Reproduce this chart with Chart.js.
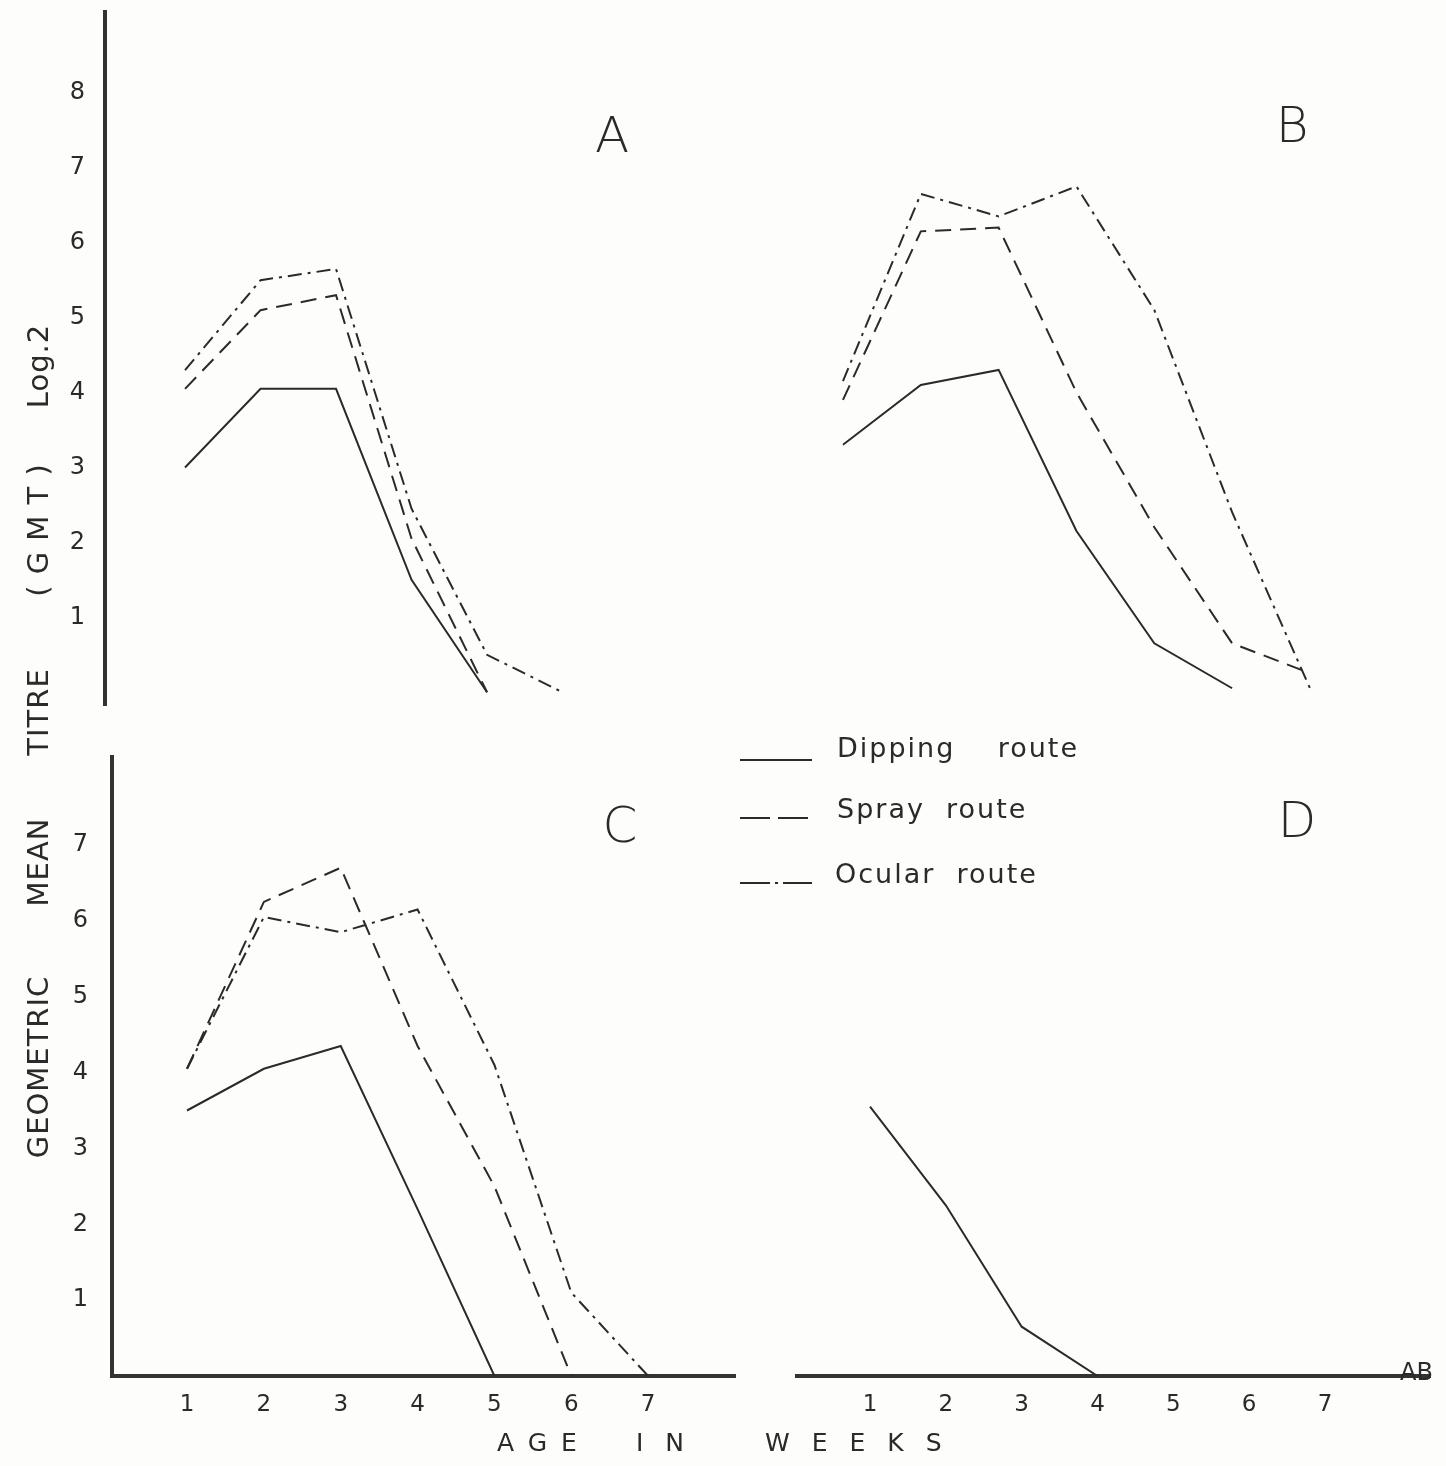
<!DOCTYPE html>
<html>
<head>
<meta charset="utf-8">
<script src="https://cdn.jsdelivr.net/npm/chart.js@4.4.1/dist/chart.umd.min.js"></script>
<style>
  body { margin: 0; background: #fdfdfb; }
  #page { position: relative; width: 1446px; height: 1466px; overflow: hidden;
          font-family: 'DejaVu Sans', sans-serif; color: #2a2a2a; }
  canvas { position: absolute; }
  .txt { position: absolute; white-space: nowrap; }
  .panel { font-size: 50px; font-weight: 200; transform: translate(-50%, -50%); }
  .ytitle { font-size: 29px; letter-spacing: 1px; transform: translate(-50%, -50%) rotate(-90deg); }
  .xtitle { font-size: 25px; letter-spacing: 14px; transform: translateY(-50%); }
  .leg { font-size: 27px; letter-spacing: 2px; transform: translateY(-50%); }
</style>
</head>
<body>
<div id="page">
  <canvas id="chartA" width="740" height="720" style="left:0;top:0"></canvas>
  <canvas id="chartB" width="706" height="720" style="left:740px;top:0"></canvas>
  <canvas id="chartC" width="760" height="746" style="left:0;top:720px"></canvas>
  <canvas id="chartD" width="686" height="746" style="left:760px;top:720px"></canvas>

  <!-- panel letters -->
  <div class="txt panel" style="left:612px;top:135px">A</div>
  <div class="txt panel" style="left:1292px;top:125px">B</div>
  <div class="txt panel" style="left:620px;top:825px">C</div>
  <div class="txt panel" style="left:1297px;top:820px">D</div>

  <!-- y title, one word at a time -->
  <div class="txt ytitle" style="left:38px;top:1067px">GEOMETRIC</div>
  <div class="txt ytitle" style="left:38px;top:862px">MEAN</div>
  <div class="txt ytitle" style="left:38px;top:712px">TITRE</div>
  <div class="txt ytitle" style="left:38px;top:530px">( G M T )</div>
  <div class="txt ytitle" style="left:38px;top:366px">Log.2</div>

  <!-- x title -->
  <div class="txt xtitle" style="left:497px;top:1442px">AGE</div>
  <div class="txt xtitle" style="left:636px;top:1442px;letter-spacing:22px">IN</div>
  <div class="txt xtitle" style="left:765px;top:1442px;letter-spacing:22px">WEEKS</div>
  <div class="txt" style="left:1400px;top:1358px;font-size:24px">AB</div>

  <!-- legend -->
  <svg class="txt" style="left:738px;top:740px" width="80" height="150">
    <line x1="2" y1="20" x2="74" y2="20" stroke="#2a2a2a" stroke-width="2"/>
    <line x1="2" y1="78" x2="74" y2="78" stroke="#2a2a2a" stroke-width="2" stroke-dasharray="30 8"/>
    <line x1="2" y1="143" x2="74" y2="143" stroke="#2a2a2a" stroke-width="2" stroke-dasharray="30 5 3 5 40"/>
  </svg>
  <div class="txt leg" style="left:837px;top:747px">Dipping&nbsp;&nbsp;&nbsp; route</div>
  <div class="txt leg" style="left:837px;top:808px">Spray&nbsp; route</div>
  <div class="txt leg" style="left:835px;top:873px">Ocular&nbsp; route</div>
</div>

<script>
// Age in weeks (x)
const weeks = [1, 2, 3, 4, 5, 6, 7];

// Panel A
const dipA = [3.0, 4.05, 4.05, 1.5, 0];
const sprayA = [4.05, 5.1, 5.3, 2.05, 0];
const ocularA = [4.3, 5.5, 5.65, 2.45, 0.5, 0];

// Panel B
const dipB = [3.3, 4.1, 4.3, 2.15, 0.65, 0.05];
const sprayB = [3.9, 6.15, 6.2, 4.0, 2.2, 0.65, 0.25];
const ocularB = [4.15, 6.65, 6.35, 6.75, 5.1, 2.4, 0.05];

// Panel C
const dipC = [3.5, 4.05, 4.35, 2.2, 0];
const sprayC = [4.05, 6.25, 6.7, 4.35, 2.5, 0];
const ocularC = [4.05, 6.05, 5.85, 6.15, 4.1, 1.1, 0];

// Panel D (dipping only)
const dipD = [3.55, 2.25, 0.65, 0];

// Tick labels
const yTicksTop = [1, 2, 3, 4, 5, 6, 7, 8];
const yTicksBottom = [1, 2, 3, 4, 5, 6, 7];
const xTicks = [1, 2, 3, 4, 5, 6, 7];

const INK = '#2a2a2a';
const AXIS = '#333333';
const SOLID = [], DASH = [16, 9], DASHDOT = [14, 6, 3, 6];
const tickFont = { family: 'DejaVu Sans', size: 24 };

function pts(vals) {
    return vals.map((v, i) => ({ x: weeks[i], y: v }));
}

function series(vals, dash) {
    return {
        data: pts(vals),
        borderColor: INK,
        borderWidth: 2,
        borderDash: dash,
        pointRadius: 0,
        tension: 0,
        fill: false
    };
}

function setTicks(list) {
    return s => { s.ticks = list.map(v => ({ value: v })); };
}

function noPad(s) {
    s.paddingTop = 0; s.paddingBottom = 0;
    s.paddingLeft = 0; s.paddingRight = 0;
}

function yAxis(min, max, list, width, pad) {
    return {
        type: 'linear', min: min, max: max,
        border: { display: true, width: 4, color: AXIS },
        grid: { display: false, drawTicks: false },
        ticks: { font: tickFont, color: INK, padding: pad, autoSkip: false },
        afterBuildTicks: setTicks(list),
        afterFit: s => { s.width = width; noPad(s); }
    };
}

function xAxis(min, max) {
    return {
        type: 'linear', min: min, max: max,
        border: { display: true, width: 4, color: AXIS },
        grid: { display: false, drawTicks: false },
        ticks: { font: { family: 'DejaVu Sans', size: 23 }, color: INK, padding: 15, autoSkip: false, maxRotation: 0 },
        afterBuildTicks: setTicks(xTicks),
        afterFit: s => { s.height = 90; noPad(s); }
    };
}

function hidden(min, max) {
    return { type: 'linear', display: false, min: min, max: max };
}

function makeChart(id, datasets, scales, padding) {
    return new Chart(document.getElementById(id), {
        type: 'line',
        data: { datasets: datasets },
        options: {
            responsive: false,
            animation: false,
            devicePixelRatio: 1,
            layout: { padding: padding },
            plugins: { legend: { display: false }, tooltip: { enabled: false } },
            scales: scales
        }
    });
}

// A: top-left, left axis only
makeChart('chartA',
    [series(dipA, SOLID), series(sprayA, DASH), series(ocularA, DASHDOT)],
    { x: hidden(-0.06, 8.35), y: yAxis(-0.17, 9.08, yTicksTop, 105, 20) },
    { top: 12, bottom: 15, left: 0, right: 0 });

// B: top-right, no axes
makeChart('chartB',
    [series(dipB, SOLID), series(sprayB, DASH), series(ocularB, DASHDOT)],
    { x: hidden(-0.323, 8.748), y: hidden(-0.374, 9.239) },
    0);

// C: bottom-left, both axes
makeChart('chartC',
    [series(dipC, SOLID), series(sprayC, DASH), series(ocularC, DASHDOT)],
    { x: xAxis(0.024, 8.13), y: yAxis(0, 8.16, yTicksBottom, 112, 24) },
    { top: 37, bottom: 0, left: 0, right: 25 });

// D: bottom-right, x axis only
makeChart('chartD',
    [series(dipD, SOLID)],
    { x: xAxis(0.037, 8.385), y: hidden(0, 8.16) },
    { top: 37, bottom: 0, left: 37, right: 16 });
</script>
</body>
</html>
